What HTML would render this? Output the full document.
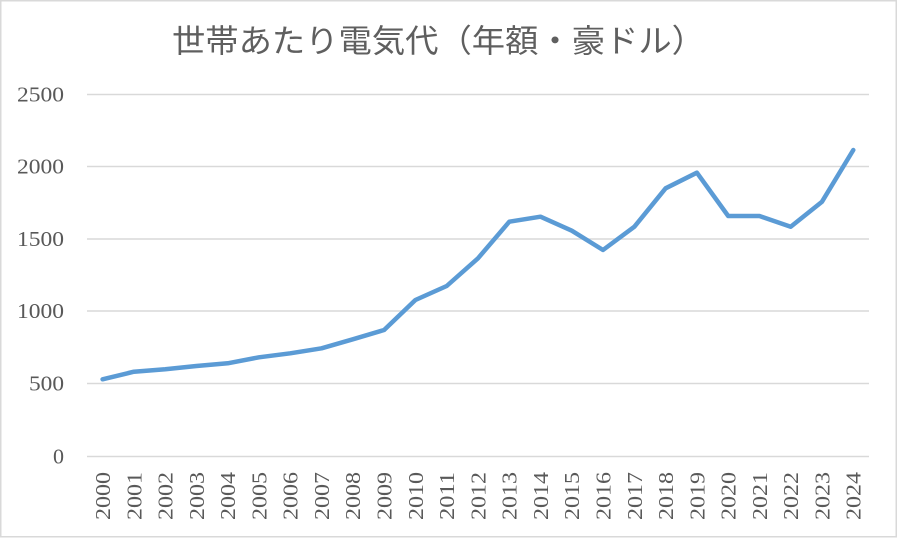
<!DOCTYPE html>
<html><head><meta charset="utf-8"><style>
html,body{margin:0;padding:0;background:#fff;}
svg{display:block;}
</style></head><body>
<svg width="900" height="541" viewBox="0 0 900 541" xmlns="http://www.w3.org/2000/svg">
<rect x="0" y="0" width="900" height="541" fill="#fff"/>
<rect x="0.75" y="0.75" width="895.5" height="536" fill="#fff" stroke="#d9d9d9" stroke-width="1.5"/>
<text x="172" y="52" font-family="'Noto Sans CJK JP', 'Noto Sans CJK SC', sans-serif" font-size="32" fill="#5f5f5f" textLength="533" lengthAdjust="spacingAndGlyphs">世帯あたり電気代（年額・豪ドル）</text>
<g stroke="#d9d9d9" stroke-width="1.5">
<line x1="87" y1="94.5" x2="869" y2="94.5"/>
<line x1="87" y1="166.5" x2="869" y2="166.5"/>
<line x1="87" y1="239" x2="869" y2="239"/>
<line x1="87" y1="311" x2="869" y2="311"/>
<line x1="87" y1="383.5" x2="869" y2="383.5"/>
<line x1="87" y1="456.5" x2="869" y2="456.5"/>
</g>
<g font-family="'Liberation Serif', serif" font-size="21" fill="#595959" text-anchor="end">
<text x="64" y="101.5" textLength="47" lengthAdjust="spacingAndGlyphs">2500</text>
<text x="64" y="173.5" textLength="47" lengthAdjust="spacingAndGlyphs">2000</text>
<text x="64" y="246" textLength="47" lengthAdjust="spacingAndGlyphs">1500</text>
<text x="64" y="318" textLength="47" lengthAdjust="spacingAndGlyphs">1000</text>
<text x="64" y="390.5" textLength="35" lengthAdjust="spacingAndGlyphs">500</text>
<text x="64" y="463.5" textLength="11" lengthAdjust="spacingAndGlyphs">0</text>
</g>
<g font-family="'Liberation Serif', serif" font-size="21.5" fill="#595959" text-anchor="end">
<text transform="translate(110,472) rotate(-90)" textLength="48" lengthAdjust="spacingAndGlyphs">2000</text>
<text transform="translate(141.3,472) rotate(-90)" textLength="48" lengthAdjust="spacingAndGlyphs">2001</text>
<text transform="translate(172.6,472) rotate(-90)" textLength="48" lengthAdjust="spacingAndGlyphs">2002</text>
<text transform="translate(203.8,472) rotate(-90)" textLength="48" lengthAdjust="spacingAndGlyphs">2003</text>
<text transform="translate(235.1,472) rotate(-90)" textLength="48" lengthAdjust="spacingAndGlyphs">2004</text>
<text transform="translate(266.4,472) rotate(-90)" textLength="48" lengthAdjust="spacingAndGlyphs">2005</text>
<text transform="translate(297.7,472) rotate(-90)" textLength="48" lengthAdjust="spacingAndGlyphs">2006</text>
<text transform="translate(329.0,472) rotate(-90)" textLength="48" lengthAdjust="spacingAndGlyphs">2007</text>
<text transform="translate(360.2,472) rotate(-90)" textLength="48" lengthAdjust="spacingAndGlyphs">2008</text>
<text transform="translate(391.5,472) rotate(-90)" textLength="48" lengthAdjust="spacingAndGlyphs">2009</text>
<text transform="translate(422.8,472) rotate(-90)" textLength="48" lengthAdjust="spacingAndGlyphs">2010</text>
<text transform="translate(454.1,472) rotate(-90)" textLength="48" lengthAdjust="spacingAndGlyphs">2011</text>
<text transform="translate(485.4,472) rotate(-90)" textLength="48" lengthAdjust="spacingAndGlyphs">2012</text>
<text transform="translate(516.7,472) rotate(-90)" textLength="48" lengthAdjust="spacingAndGlyphs">2013</text>
<text transform="translate(547.9,472) rotate(-90)" textLength="48" lengthAdjust="spacingAndGlyphs">2014</text>
<text transform="translate(579.2,472) rotate(-90)" textLength="48" lengthAdjust="spacingAndGlyphs">2015</text>
<text transform="translate(610.4,472) rotate(-90)" textLength="48" lengthAdjust="spacingAndGlyphs">2016</text>
<text transform="translate(641.8,472) rotate(-90)" textLength="48" lengthAdjust="spacingAndGlyphs">2017</text>
<text transform="translate(673.0,472) rotate(-90)" textLength="48" lengthAdjust="spacingAndGlyphs">2018</text>
<text transform="translate(704.3,472) rotate(-90)" textLength="48" lengthAdjust="spacingAndGlyphs">2019</text>
<text transform="translate(735.6,472) rotate(-90)" textLength="48" lengthAdjust="spacingAndGlyphs">2020</text>
<text transform="translate(766.9,472) rotate(-90)" textLength="48" lengthAdjust="spacingAndGlyphs">2021</text>
<text transform="translate(798.1,472) rotate(-90)" textLength="48" lengthAdjust="spacingAndGlyphs">2022</text>
<text transform="translate(829.4,472) rotate(-90)" textLength="48" lengthAdjust="spacingAndGlyphs">2023</text>
<text transform="translate(860.7,472) rotate(-90)" textLength="48" lengthAdjust="spacingAndGlyphs">2024</text>
</g>
<polyline fill="none" stroke="#5b9bd5" stroke-width="4.5" stroke-linejoin="round" stroke-linecap="round"
points="102.6,379.3 133.9,371.7 165.2,369.3 196.4,366 227.7,363.3 259,357.3 290.3,353.3 321.6,348.3 352.8,339.3 384.1,330 415.4,300 446.7,286 478,258.3 509.3,221.7 540.5,216.7 571.8,230.7 603,250 634.4,226.7 665.6,188.3 696.9,172.7 728.2,216 759.5,216 790.7,226.7 822,201.7 853.3,150"/>
</svg>
</body></html>
